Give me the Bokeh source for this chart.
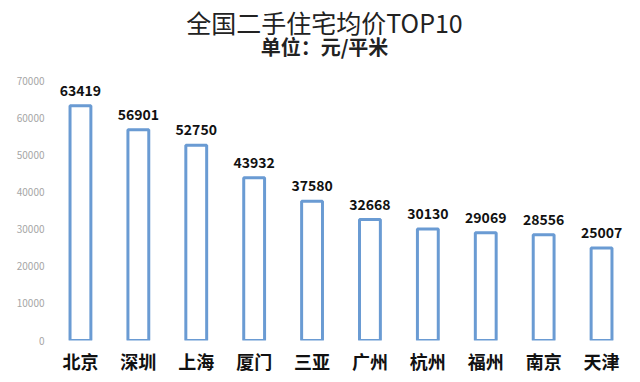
from bokeh.plotting import figure
from bokeh.models import ColumnDataSource, Label, Range1d, FixedTicker
from bokeh.core.properties import value
from bokeh.embed import file_html
from bokeh.resources import INLINE

cities = ["北京", "深圳", "上海", "厦门", "三亚", "广州", "杭州", "福州", "南京", "天津"]
prices = [63419, 56901, 52750, 43932, 37580, 32668, 30130, 29069, 28556, 25007]
y_ticks = [0, 10000, 20000, 30000, 40000, 50000, 60000, 70000]
title_text = "全国二手住宅均价TOP10"
subtitle_text = "单位：元/平米"

src = ColumnDataSource(dict(city=cities, price=prices, label=[str(v) for v in prices]))

FONT = "Noto Sans CJK SC"

# frame spans the whole height above the axis; 70000 sits 260px above 0
y_top = 70000 * 341 / 260

p = figure(x_range=cities, y_range=Range1d(0, y_top), width=632, height=376,
           output_backend="svg", toolbar_location=None,
           min_border_left=51, min_border_right=2, min_border_bottom=35, min_border_top=0)

p.vbar(x="city", top="price", width=0.36, source=src, fill_color="white",
       line_color="#6A9BD3", line_width=3)
p.text(x="city", y="price", text="label", source=src, text_align="center",
       text_baseline="bottom", y_offset=-10, text_font=value(FONT),
       text_font_style="bold", text_font_size="14px", text_color="#111111")

p.xgrid.visible = False
p.ygrid.visible = False
p.outline_line_color = None

p.yaxis.ticker = FixedTicker(ticks=y_ticks)
p.yaxis.axis_line_color = None
p.yaxis.major_tick_line_color = None
p.yaxis.minor_tick_line_color = None
p.yaxis.major_tick_out = 0
p.yaxis.major_tick_in = 0
p.yaxis.major_label_text_color = "#a6a6a6"
p.yaxis.major_label_text_font = FONT
p.yaxis.major_label_text_font_size = "10px"
p.yaxis.major_label_standoff = 7

p.xaxis.axis_line_color = None
p.xaxis.major_tick_line_color = None
p.xaxis.major_tick_out = 0
p.xaxis.major_tick_in = 0
p.xaxis.major_label_text_color = "#111111"
p.xaxis.major_label_text_font = FONT
p.xaxis.major_label_text_font_style = "bold"
p.xaxis.major_label_text_font_size = "18px"
p.xaxis.major_label_standoff = 7

p.add_layout(Label(x=273, y=319, x_units="screen", y_units="screen", text=title_text,
                   text_align="center", text_baseline="middle", text_font=FONT,
                   text_font_size="25px", text_color="#222222"))
p.add_layout(Label(x=273, y=294, x_units="screen", y_units="screen", text=subtitle_text,
                   text_align="center", text_baseline="middle", text_font=FONT,
                   text_font_style="bold", text_font_size="20px", text_color="#222222"))

open("out.html", "w").write(file_html(p, INLINE))
